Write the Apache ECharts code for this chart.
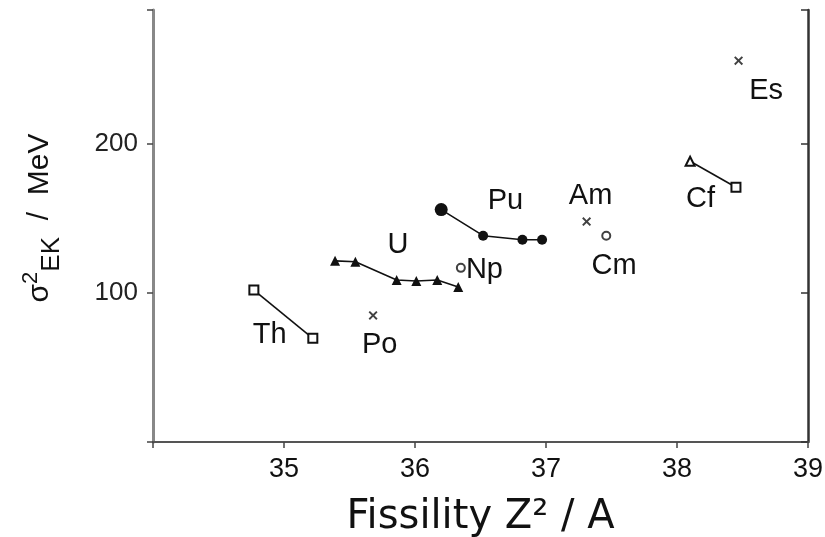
<!DOCTYPE html>
<html>
<head>
<meta charset="utf-8">
<script src="https://cdn.jsdelivr.net/npm/echarts@6/dist/echarts.min.js"></script>
<style>html,body{margin:0;padding:0;background:#fff;}#c{width:825px;height:537px;}</style>
</head>
<body>
<div id="c"></div>
<script>
// Data (x = fissility Z^2/A, y = sigma^2 EK / MeV)
var thX = [34.77, 35.22];
var thY = [102, 69.6];
var uX = [35.39, 35.545, 35.86, 36.01, 36.17, 36.33];
var uY = [121.6, 121, 108.8, 108.1, 108.8, 104];
var npX = [36.35];
var npY = [116.9];
var puX = [36.20, 36.52, 36.82, 36.97];
var puY = [156, 138.5, 135.8, 135.8];
var poX = [35.68];
var poY = [85];
var amX = [37.31];
var amY = [148];
var cmX = [37.46];
var cmY = [138.5];
var cfX = [38.10, 38.45];
var cfY = [188.5, 171];
var esX = [38.47];
var esY = [256];
// element labels (text anchored in data space)
var labelNames = ['Th', 'Po', 'U', 'Np', 'Pu', 'Am', 'Cm', 'Cf', 'Es'];
var labelX = [34.89, 35.73, 35.87, 36.53, 36.69, 37.34, 37.52, 38.18, 38.68];
var labelY = [71.6, 64.9, 132.4, 115.5, 161.5, 164.9, 118.2, 162.8, 235.8];
var xTicks = [35, 36, 37, 38, 39];
var yTicks = [100, 200];

function pairs(xs, ys) { return xs.map(function (x, i) { return [x, ys[i]]; }); }
var cross = 'path://M0,1.5L1.5,0L5,3.5L8.5,0L10,1.5L6.5,5L10,8.5L8.5,10L5,6.5L1.5,10L0,8.5L3.5,5Z';
var ink = '#111';

var chart = echarts.init(document.getElementById('c'));
var option = {
  backgroundColor: '#fff',
  animation: false,
  grid: { left: 153, right: 17, top: 10, bottom: 95, containLabel: false, outerBoundsMode: 'none' },
  xAxis: {
    type: 'value', min: 34, max: 39, interval: 1,
    axisLine: { show: true, lineStyle: { color: '#555', width: 2 } },
    axisTick: { show: true, length: 6, lineStyle: { color: '#444', width: 1.5 } },
    splitLine: { show: false },
    axisLabel: {
      margin: 14, fontSize: 27, color: '#111', fontFamily: 'Liberation Sans',
      formatter: function (v) { return xTicks.indexOf(v) >= 0 ? String(v) : ''; }
    },
    name: 'Fissility Z² / A', nameLocation: 'middle', nameGap: 56,
    nameTextStyle: { fontSize: 40, color: '#111', fontFamily: 'DejaVu Sans' }
  },
  yAxis: [{
    type: 'value', min: 0, max: 290, interval: 100, position: 'left',
    axisLine: { show: true, lineStyle: { color: '#888', width: 3 } },
    axisTick: { show: true, length: 6, lineStyle: { color: '#444', width: 1.5 } },
    splitLine: { show: false },
    axisLabel: {
      margin: 15, fontSize: 26, color: '#222', fontFamily: 'Liberation Sans',
      formatter: function (v) { return yTicks.indexOf(v) >= 0 ? String(v) : ''; }
    },
    name: '{m|σ}{sup|2}{sub|EK}{m|  /  MeV}', nameLocation: 'middle', nameGap: 88, nameRotate: 90,
    nameTextStyle: {
      color: '#111', fontFamily: 'Liberation Sans', padding: [0, 0, 0, 16],
      rich: {
        m: { fontSize: 30, fontFamily: 'Liberation Sans', color: '#111' },
        sup: { fontSize: 22, fontFamily: 'Liberation Sans', color: '#111', padding: [0, 0, 18, 0] },
        sub: { fontSize: 26, fontFamily: 'Liberation Sans', color: '#111', padding: [24, 0, 0, 0] }
      }
    }
  }, {
    type: 'value', min: 0, max: 290, interval: 100, position: 'right',
    axisLine: { show: true, lineStyle: { color: '#333', width: 2.5 } },
    axisTick: { show: true, inside: true, length: 7, lineStyle: { color: '#333', width: 1.5 } },
    splitLine: { show: false },
    axisLabel: { show: false }
  }],
  series: [
    { type: 'line', data: pairs(thX, thY), symbol: 'emptyRect', symbolSize: 9,
      lineStyle: { color: ink, width: 1.6 }, itemStyle: { color: ink, borderColor: ink, borderWidth: 1.6 } },
    { type: 'line', data: pairs(uX, uY), symbol: 'triangle', symbolSize: 10,
      lineStyle: { color: ink, width: 1.6 }, itemStyle: { color: ink } },
    { type: 'scatter', data: pairs(npX, npY), symbol: 'emptyCircle', symbolSize: 8,
      itemStyle: { color: ink, borderColor: ink, borderWidth: 1.8 } },
    { type: 'line', data: pairs(puX, puY).map(function (p, i) { return { value: p, symbolSize: i === 0 ? 13 : 10 }; }),
      symbol: 'circle', lineStyle: { color: ink, width: 1.6 }, itemStyle: { color: ink } },
    { type: 'scatter', data: pairs(poX, poY).concat(pairs(amX, amY), pairs(esX, esY)), symbol: cross, symbolSize: 9,
      itemStyle: { color: ink } },
    { type: 'scatter', data: pairs(cmX, cmY), symbol: 'emptyCircle', symbolSize: 8,
      itemStyle: { color: ink, borderColor: ink, borderWidth: 1.8 } },
    { type: 'line', data: pairs(cfX, cfY).map(function (p, i) { return { value: p, symbol: i === 0 ? 'emptyTriangle' : 'emptyRect' }; }),
      symbolSize: 9, lineStyle: { color: ink, width: 1.6 }, itemStyle: { color: ink, borderColor: ink, borderWidth: 1.6 } },
    { type: 'scatter', data: labelNames.map(function (n, i) { return { name: n, value: [labelX[i], labelY[i]] }; }),
      symbolSize: 0, itemStyle: { color: ink, opacity: 1 }, silent: true,
      label: { show: true, position: 'inside', formatter: '{b}', fontSize: 29, color: '#111', opacity: 1,
               textBorderWidth: 0, fontFamily: 'Liberation Sans' } }
  ]
};
chart.setOption(option);
</script>
</body>
</html>
